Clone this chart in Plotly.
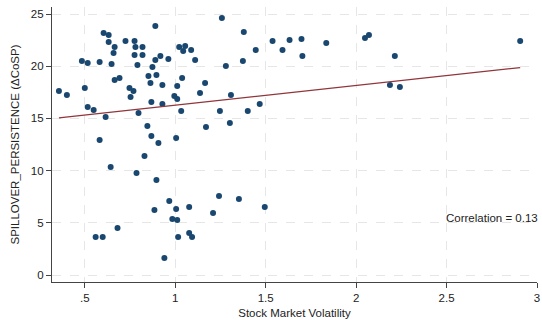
import numpy as np
import plotly.graph_objects as go

# Stock market volatility vs. spillover persistence (one point per observation)
volatility = [
    0.357, 0.401, 0.500, 0.484, 0.516, 0.582, 0.604, 0.632, 0.632, 0.665,
    0.659, 0.648, 0.665, 0.692, 0.725, 0.747, 0.769, 0.753, 0.775, 0.780,
    0.819, 0.775, 0.819, 0.791, 0.890, 0.890, 0.918, 0.874, 0.852, 0.896,
    0.863, 0.929, 0.962, 1.022, 1.055, 1.044, 1.088, 1.110, 1.258, 1.379,
    1.445, 1.538, 1.374, 1.280, 1.038, 1.011, 0.995, 1.011, 1.165, 1.137,
    1.308, 1.593, 1.632, 1.698, 1.703, 1.835, 2.049, 2.071, 2.214, 2.187,
    2.242, 2.907, 1.247, 1.401, 1.467, 1.302, 1.170, 1.033, 0.516, 0.549,
    0.615, 0.797, 0.868, 0.929, 0.846, 0.868, 0.907, 0.582, 0.830, 0.643,
    0.786, 0.896, 1.005, 0.967, 0.885, 1.077, 1.005, 0.984, 1.011, 0.560,
    0.599, 0.681, 1.077, 1.093, 1.016, 0.940, 1.242, 1.352, 1.495, 1.209,
]
persistence = [
    17.62, 17.24, 17.91, 20.50, 20.31, 20.40, 23.18, 22.99, 22.32, 21.84,
    21.26, 20.21, 18.68, 18.87, 22.41, 17.91, 17.62, 17.05, 22.41, 21.84,
    21.84, 21.07, 21.07, 20.11, 23.85, 20.59, 20.98, 19.92, 19.06, 19.16,
    18.39, 18.20, 20.69, 21.84, 21.93, 21.46, 21.55, 20.59, 24.62, 23.28,
    21.55, 22.41, 20.50, 20.02, 18.87, 18.10, 17.15, 16.86, 18.39, 17.43,
    17.24, 21.55, 22.51, 22.61, 20.98, 22.22, 22.70, 22.99, 20.98, 18.20,
    18.01, 22.41, 15.71, 15.71, 16.38, 14.56, 14.18, 15.71, 16.09, 15.80,
    15.13, 15.52, 16.57, 16.38, 14.27, 13.31, 12.64, 12.93, 11.40, 10.34,
    9.77, 9.10, 13.12, 7.09, 6.23, 6.51, 6.32, 5.36, 5.27, 3.64,
    3.64, 4.50, 4.02, 3.64, 3.64, 1.63, 7.57, 7.28, 6.51, 5.94,
]

# Fitted linear trend (intercept, slope) of persistence on volatility
fit_intercept = 14.37
fit_slope = 1.89

x_ticks = [0.5, 1, 1.5, 2, 2.5, 3]
x_tick_labels = [".5", "1", "1.5", "2", "2.5", "3"]
y_ticks = [0, 5, 10, 15, 20, 25]
correlation_label = "Correlation = 0.13"

x = np.array(volatility)
y = np.array(persistence)

# Trend line drawn across the observed range of volatility
fit_x = np.array([x.min(), x.max()])
fit_y = fit_intercept + fit_slope * fit_x

NAVY = "#1a476f"
MAROON = "#90353b"
FONT = "Liberation Sans, Arial, sans-serif"

fig = go.Figure()
fig.add_trace(go.Scatter(
    x=x, y=y, mode="markers",
    marker=dict(color=NAVY, size=6, line=dict(width=0)),
    showlegend=False, hoverinfo="skip",
))
fig.add_trace(go.Scatter(
    x=fit_x, y=fit_y, mode="lines",
    line=dict(color=MAROON, width=1.2),
    showlegend=False, hoverinfo="skip",
))

fig.add_annotation(
    x=2.5, y=5.5, xref="x", yref="y",
    text=correlation_label, showarrow=False,
    xanchor="left", yanchor="middle", xshift=-3,
    font=dict(family=FONT, size=11.5, color="#222"),
)

axis_common = dict(
    showgrid=True, gridcolor="#e6e6e6", griddash="dash", gridwidth=1,
    zeroline=False, showline=True, linecolor="#444", linewidth=1.2,
    ticks="outside", ticklen=5, tickcolor="#444", tickwidth=1.2,
    tickfont=dict(family=FONT, size=11.5, color="#222"),
    ticklabeloverflow="allow", mirror=False,
)

fig.update_layout(
    width=542, height=320,
    margin=dict(l=52, r=2, t=7, b=38),
    paper_bgcolor="white", plot_bgcolor="white",
    font=dict(family=FONT, color="#222"),
    xaxis=dict(
        range=[0.3187, 3.0], tickvals=x_ticks, ticktext=x_tick_labels,
        title=dict(text="Stock Market Volatility", font=dict(family=FONT, size=11.5), standoff=6),
        **axis_common,
    ),
    yaxis=dict(
        range=[-0.67, 25.67], tickvals=y_ticks,
        title=dict(text="SPILLOVER_PERSISTENCE (ΔCoSP)", font=dict(family=FONT, size=11.5), standoff=8),
        **axis_common,
    ),
)

fig.write_html("out.html")
